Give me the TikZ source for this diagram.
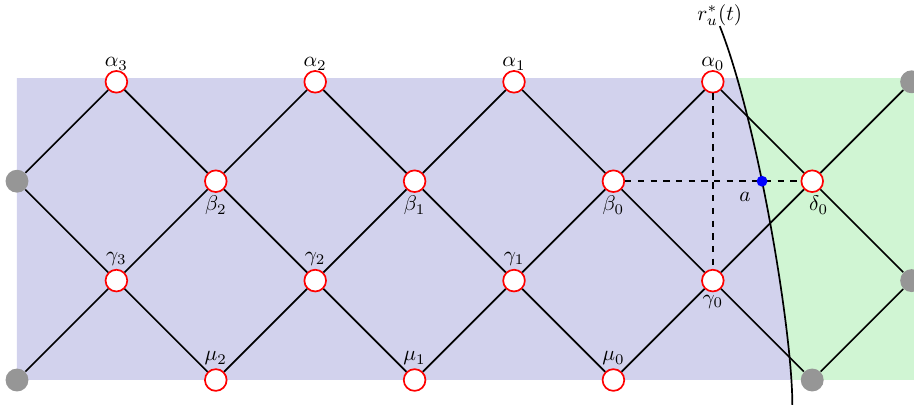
\documentclass[tikz,border=0pt]{standalone}
\usepackage{amsmath}
\usepackage{amssymb}
\usetikzlibrary{intersections}
\definecolor{zoneblue}{RGB}{210,210,237}
\definecolor{zonegreen}{RGB}{208,245,211}
\definecolor{ghostgray}{RGB}{150,150,150}

\begin{document}
\begin{tikzpicture}[x=1.65cm,y=1.65cm,site/.style={shape=circle,draw=red,thick,fill=white,inner sep=0pt,minimum size=0.36cm},ghost/.style={shape=circle,fill=ghostgray,inner sep=0pt,minimum size=0.38cm},probe/.style={shape=circle,fill=blue,inner sep=0pt,minimum size=0.18cm},link/.style={thick},guide/.style={thick,dashed},every label/.style={label distance=-2pt},toplab/.style={label={[label distance=-3.5pt]above:#1}}]
\def\rcurve{(7.07,3.56) .. controls (7.45,2.6) and (7.8,0.5) .. (7.80,-0.25)}
\def\ytop{3.03}

\clip (-0.171,-0.302) rectangle (9.024,3.823);

% the two zones, split by the curve
\begin{scope}
\clip (0,0.01) rectangle (9.5,\ytop);
\fill[zoneblue] (-1,3.56) -- \rcurve -- (-1,-0.25) -- cycle;
\fill[zonegreen] \rcurve -- (9.5,-0.25) -- (9.5,3.56) -- cycle;
\end{scope}

\node[site,toplab=$\alpha_3$] (a3) at (1,3) {};
\node[site,toplab=$\alpha_2$] (a2) at (3,3) {};
\node[site,toplab=$\alpha_1$] (a1) at (5,3) {};
\node[site,toplab=$\alpha_0$] (a0) at (7,3) {};
\node[ghost] (R0) at (9,3) {};

\node[ghost] (L1) at (0,2) {};
\node[site,label=below:$\beta_2$] (b2) at (2,2) {};
\node[site,label=below:$\beta_1$] (b1) at (4,2) {};
\node[site,label=below:$\beta_0$] (b0) at (6,2) {};
\node[site,label={[xshift=3pt]below:$\delta_0$}] (d0) at (8,2) {};

\node[site,label=above:$\gamma_3$] (g3) at (1,1) {};
\node[site,label=above:$\gamma_2$] (g2) at (3,1) {};
\node[site,label=above:$\gamma_1$] (g1) at (5,1) {};
\node[site,label=below:$\gamma_0$] (g0) at (7,1) {};
\node[ghost] (R2) at (9,1) {};

\node[ghost] (L3) at (0,0) {};
\node[site,label=above:$\mu_2$] (m2) at (2,0) {};
\node[site,label=above:$\mu_1$] (m1) at (4,0) {};
\node[site,label=above:$\mu_0$] (m0) at (6,0) {};
\node[ghost] (M) at (8,0) {};

\draw[link] (L1) -- (a3) -- (b2) -- (a2) -- (b1) -- (a1) -- (b0) -- (a0) -- (d0) -- (R0);
\draw[link] (L1) -- (g3) -- (b2) -- (g2) -- (b1) -- (g1) -- (b0) -- (g0) -- (d0) -- (R2);
\draw[link] (L3) -- (g3) -- (m2) -- (g2) -- (m1) -- (g1) -- (m0) -- (g0) -- (M) -- (R2);

\draw[guide] (a0) -- (g0);
\draw[guide,name path=hline] (b0) -- (d0);

\draw[thick,name path=front] \rcurve;
\coordinate (ctop) at (7.07,3.56);
\node[above,inner sep=0pt] (rlabel) at (ctop) {$r_u^*(t)$};

\path[name intersections={of=front and hline,by=hit}];
\node[probe,label={[label distance=0pt]below left:$a$}] (dot) at (hit) {};

\end{tikzpicture}
\end{document}
